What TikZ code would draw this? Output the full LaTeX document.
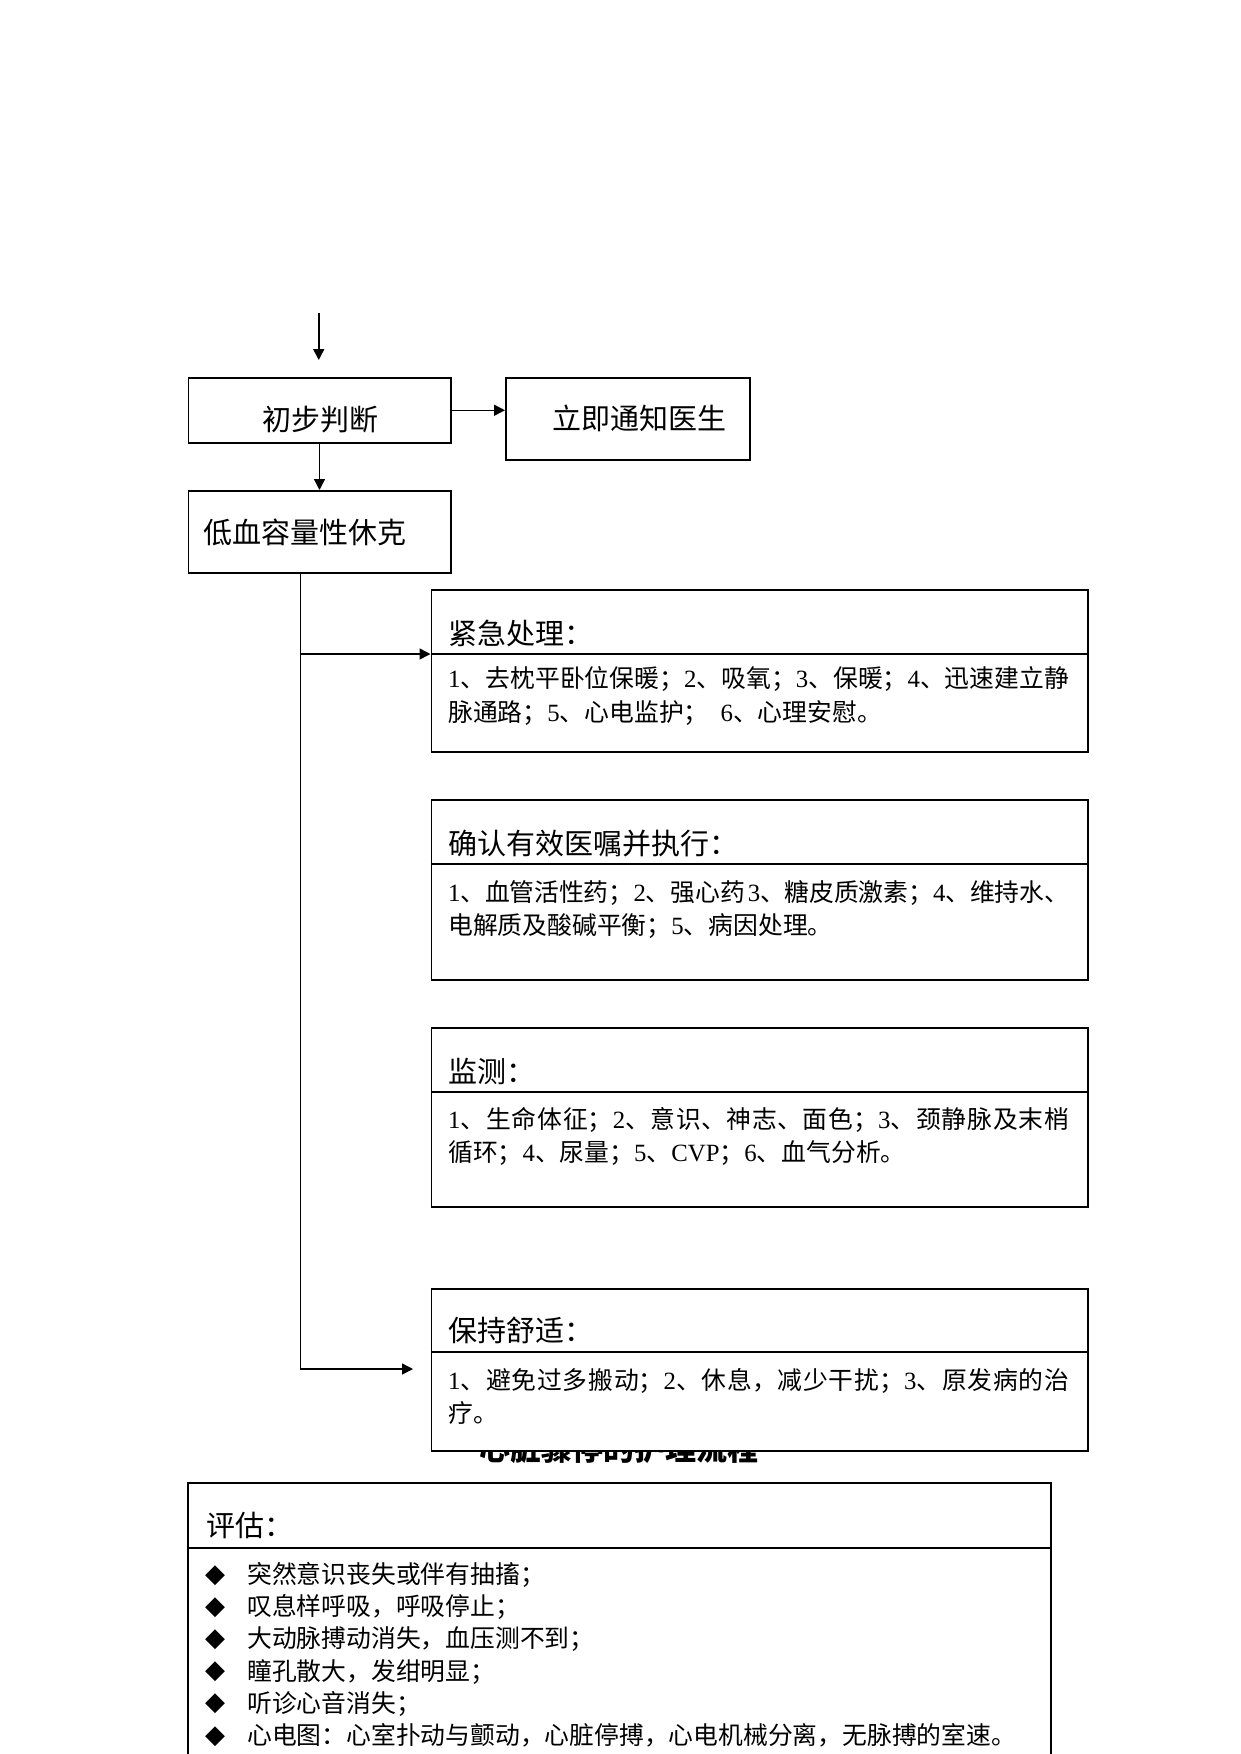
\documentclass[tikz,border=0pt]{standalone}
\usepackage{fontspec}
\setmainfont{Noto Sans CJK SC}
\newfontfamily\lat{Liberation Serif}
\newfontfamily\djv{DejaVu Sans}
\usetikzlibrary{arrows.meta}
\XeTeXlinebreaklocale "zh"
\XeTeXlinebreakskip=0pt plus 2pt minus 0.4pt
\newcommand\D[1]{{\lat #1}}
\newcommand\hdf{\fontsize{29}{34}\selectfont}
\newcommand\bdf{\fontsize{24.8}{34}\selectfont}
\newcommand\jl[1]{\parbox[b]{621pt}{\parfillskip=0pt\relax #1}}
\begin{document}
\begin{tikzpicture}[x=1pt,y=-1pt,
  box/.style={draw, line width=1.5pt, fill=white, inner sep=0pt, anchor=north west},
  divl/.style={line width=1.5pt},
  arr/.style={-{Triangle[length=11pt,width=11pt]}, line width=1.5pt},
  hd/.style={anchor=base west, inner sep=0pt, font=\hdf},
  bd/.style={anchor=base west, inner sep=0pt, font=\bdf},
  bul/.style={anchor=base, inner sep=0pt, font=\djv\fontsize{26}{26}\selectfont}]
\useasboundingbox (0,0) rectangle (1241,1754);
% title (partly hidden behind the last box)
\node[anchor=base, inner sep=0pt, font=\fontsize{31}{31}\selectfont\bfseries] (title) at (618.5,1460) {心脏骤停的护理流程};
% top boxes
\node[box, minimum width=262.5pt, minimum height=65pt] (b1) at (187.5,377) {};
\node[box, minimum width=244pt, minimum height=82pt] (b2) at (505,377) {};
\node[box, minimum width=262.5pt, minimum height=82pt] (b3) at (187.5,490) {};
\node[anchor=base, inner sep=0pt, font=\hdf] (t1) at (320,430) {初步判断};
\node[anchor=base, inner sep=0pt, font=\hdf] (t2) at (639,429) {立即通知医生};
\node[hd] (t3) at (203.5,543) {低血容量性休克};
% right boxes
\node[box, minimum width=656.5pt, minimum height=162pt] (b4) at (430.5,589) {};
\node[box, minimum width=656.5pt, minimum height=180pt] (b5) at (430.5,799) {};
\node[box, minimum width=656.5pt, minimum height=179pt] (b6) at (430.5,1027) {};
\node[box, minimum width=656.5pt, minimum height=162pt] (b7) at (430.5,1288) {};
\node[box, minimum width=863pt, minimum height=320pt] (b8) at (187,1482) {};
% dividers
\draw[divl] (b4.west |- 0,654) -- (b4.east |- 0,654);
\draw[divl] (b5.west |- 0,864) -- (b5.east |- 0,864);
\draw[divl] (b6.west |- 0,1092) -- (b6.east |- 0,1092);
\draw[divl] (b7.west |- 0,1352) -- (b7.east |- 0,1352);
\draw[divl] (b8.west |- 0,1548) -- (b8.east |- 0,1548);
% box 4
\node[hd] (h4) at (448,644) {紧急处理：};
\node[bd] (l41) at (448,687.5) {\jl{\D{1}、去枕平卧位保暖；\D{2}、吸氧；\D{3}、保暖；\D{4}、迅速建立静}};
\node[bd] (l42) at (448,721.5) {脉通路；\D{5}、心电监护；\hspace{12pt}\D{6}、心理安慰。};
% box 5
\node[hd] (h5) at (448,854) {确认有效医嘱并执行：};
\node[bd] (l51) at (448,901.5) {\jl{\D{1}、血管活性药；\D{2}、强心药\hspace{3pt}\D{3}、糖皮质激素；\D{4}、维持水、}};
\node[bd] (l52) at (448,934.5) {电解质及酸碱平衡；\D{5}、病因处理。};
% box 6
\node[hd] (h6) at (448,1082) {监测：};
\node[bd] (l61) at (448,1128.5) {\jl{\D{1}、生命体征；\D{2}、意识、神志、面色；\D{3}、颈静脉及末梢}};
\node[bd] (l62) at (448,1161.5) {循环；\D{4}、尿量；\D{5}、\D{CVP}；\D{6}、血气分析。};
% box 7
\node[hd] (h7) at (448,1341) {保持舒适：};
\node[bd] (l71) at (448,1389.5) {\jl{\D{1}、避免过多搬动；\D{2}、休息，减少干扰；\D{3}、原发病的治}};
\node[bd] (l72) at (448,1422.5) {疗。};
% box 8
\node[hd] (h8) at (206,1536) {评估：};
\foreach \i/\t in {0/突然意识丧失或伴有抽搐；,1/叹息样呼吸，呼吸停止；,2/大动脉搏动消失，血压测不到；,3/瞳孔散大，发绀明显；,4/听诊心音消失；,5/心电图：心室扑动与颤动，心脏停搏，心电机械分离，无脉搏的室速。}{
  \node[bul] (d\i) at (215,1582+32.2*\i) {◆};
  \node[bd] (e\i) at (247,1583.5+32.2*\i) {\t};
}
% connectors
\coordinate (a0) at (318.75,313);
\coordinate (a1) at (318.75,360);
\draw[arr] (a0) -- (a1);
\draw[arr] (b1.east) -- (b1.east -| b2.west);
\draw[arr] (b1.south) -- (b3.north);
\coordinate (t0) at (300.5,572);
\coordinate (j4) at (300.5,654);
\coordinate (e7) at (413,1369);
\draw[arr] (t0) |- (e7);
\draw[arr] (j4) -- (j4 -| b4.west);
\end{tikzpicture}
\end{document}
